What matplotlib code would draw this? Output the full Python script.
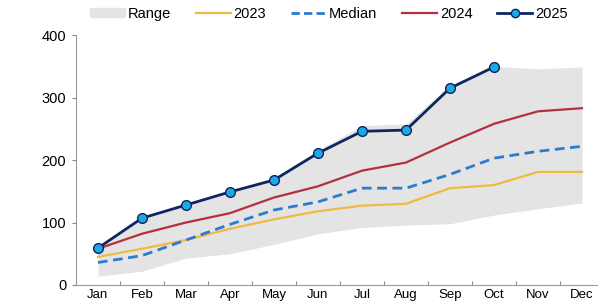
import matplotlib
matplotlib.use('Agg')
import matplotlib.pyplot as plt
from matplotlib.patches import Patch
from matplotlib.lines import Line2D

plt.rcParams['font.family'] = ['Liberation Sans', 'DejaVu Sans']

# data
months = ['Jan', 'Feb', 'Mar', 'Apr', 'May', 'Jun', 'Jul', 'Aug', 'Sep', 'Oct', 'Nov', 'Dec']
range_low = [14, 22, 43, 50, 65, 82, 92, 96, 98, 112, 122, 131]
range_high = [60, 110, 130, 151, 171, 216, 255, 258, 320, 350, 346, 349]
y2023 = [45, 58, 72, 90, 105, 118, 127, 130, 155, 160, 181, 181]
median = [36, 47, 72, 97, 120, 133, 155, 155, 177, 203, 214, 222]
y2024 = [58, 82, 100, 115, 140, 158, 183, 196, 228, 258, 278, 283]
y2025 = [59, 107, 128, 149, 168, 211, 246, 248, 315, 349]

x = list(range(len(months)))

fig = plt.figure(figsize=(5.98, 3.04), dpi=100)
ax = fig.add_axes([0.127, 0.0625, 0.883, 0.822])

ax.fill_between(x, range_low, range_high, color='#e4e4e4', lw=0)
ax.plot(x, y2023, color='#f0b940', lw=1.6)
ax.plot(x, median, color='#2b7bd0', lw=2, ls=(0, (3.5, 2)))
ax.plot(x, y2024, color='#b3303f', lw=1.6)
ax.plot(x[:len(y2025)], y2025, color='#0e2661', lw=2, marker='o', ms=7,
        mfc='#1da8e8', mec='#0e2661', mew=1)

ax.set_xlim(-0.5, 11.5)
ax.set_ylim(0, 400)
ax.set_yticks([0, 100, 200, 300, 400])
ax.set_xticks([i - 0.5 for i in range(13)])
ax.set_xticklabels([])
ax.set_xticks(x, minor=True)
ax.set_xticklabels(months, minor=True)
ax.tick_params(axis='x', which='major', direction='in', length=3, color='#888888')
ax.tick_params(axis='x', which='minor', length=0, pad=3, labelsize=9.5)
ax.tick_params(axis='y', direction='out', length=3, color='#888888', labelsize=10.5, pad=4)
for s in ['top', 'right']:
    ax.spines[s].set_visible(False)
for s in ['left', 'bottom']:
    ax.spines[s].set_color('#999999')

handles = [
    Patch(color='#e4e4e4', label='Range'),
    Line2D([], [], color='#f0b940', lw=1.6, label='2023'),
    Line2D([], [], color='#2b7bd0', lw=2, ls=(0, (3, 1.5)), label='Median'),
    Line2D([], [], color='#b3303f', lw=1.6, label='2024'),
    Line2D([], [], color='#0e2661', lw=2, marker='o', ms=6, mfc='#1da8e8',
           mec='#0e2661', label='2025'),
]
fig.legend(handles=handles, loc='center', bbox_to_anchor=(0.55, 0.955), ncol=5,
           frameon=False, fontsize=10.5, handlelength=2.4, handletextpad=0.2,
           columnspacing=1.7, handleheight=0.5)

plt.savefig('out.png', dpi=100)
